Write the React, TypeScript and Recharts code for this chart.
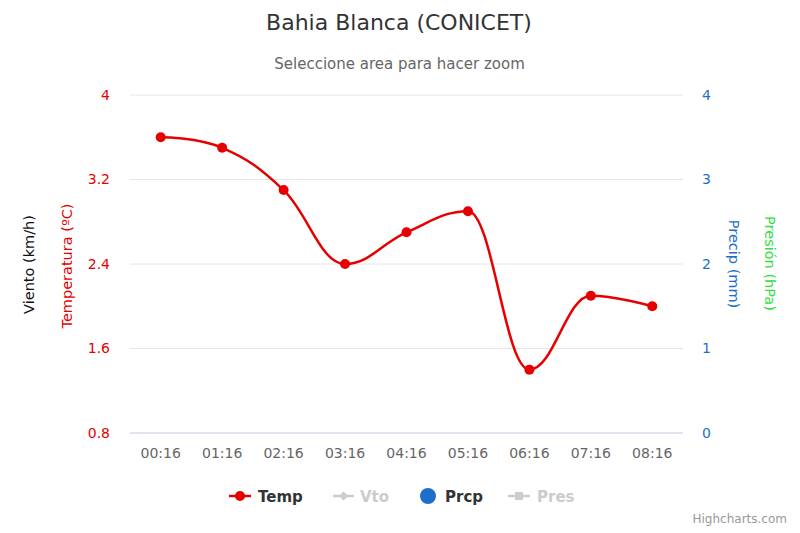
import React from 'react';
import { ComposedChart, Line, Bar, XAxis, YAxis, CartesianGrid } from 'recharts';

const times = ['00:16', '01:16', '02:16', '03:16', '04:16', '05:16', '06:16', '07:16', '08:16'];
const temps = [3.6, 3.5, 3.1, 2.4, 2.7, 2.9, 1.4, 2.1, 2.0];
const precip = [0, 0, 0, 0, 0, 0, 0, 0, 0];
const tempTicks = [0.8, 1.6, 2.4, 3.2, 4];
const precipTicks = [0, 1, 2, 3, 4];

const data = times.map((t, i) => ({ t, temp: temps[i], prcp: precip[i] }));

const RED = '#e60000';
const BLUE = '#1f6fc8';
const GREEN = '#33dd44';
const FONT = '"DejaVu Sans", sans-serif';

// Highcharts-style spline curve factory
function hcSpline(context: any) {
  let pts: number[][] = [];
  return {
    areaStart() {},
    areaEnd() {},
    lineStart() {
      pts = [];
    },
    point(x: number, y: number) {
      pts.push([+x, +y]);
    },
    lineEnd() {
      const n = pts.length;
      if (!n) return;
      const sm = 1.5;
      const den = sm + 1;
      const right: (number[] | null)[] = pts.map(() => null);
      const left: (number[] | null)[] = pts.map(() => null);
      for (let i = 1; i < n - 1; i++) {
        const [px, py] = pts[i];
        const [lx, ly] = pts[i - 1];
        const [nx, ny] = pts[i + 1];
        const lcx = (sm * px + lx) / den;
        let lcy = (sm * py + ly) / den;
        const rcx = (sm * px + nx) / den;
        let rcy = (sm * py + ny) / den;
        let corr = 0;
        if (rcx !== lcx) {
          corr = ((rcy - lcy) * (rcx - px)) / (rcx - lcx) + py - rcy;
        }
        lcy += corr;
        rcy += corr;
        if (lcy > ly && lcy > py) {
          lcy = Math.max(ly, py);
          rcy = 2 * py - lcy;
        } else if (lcy < ly && lcy < py) {
          lcy = Math.min(ly, py);
          rcy = 2 * py - lcy;
        }
        if (rcy > ny && rcy > py) {
          rcy = Math.max(ny, py);
          lcy = 2 * py - rcy;
        } else if (rcy < ny && rcy < py) {
          rcy = Math.min(ny, py);
          lcy = 2 * py - rcy;
        }
        left[i] = [lcx, lcy];
        right[i] = [rcx, rcy];
      }
      context.moveTo(pts[0][0], pts[0][1]);
      for (let i = 1; i < n; i++) {
        const c1 = right[i - 1] || pts[i - 1];
        const c2 = left[i] || pts[i];
        context.bezierCurveTo(c1[0], c1[1], c2[0], c2[1], pts[i][0], pts[i][1]);
      }
    },
  };
}

export default function App() {
  return (
    <div
      style={{
        position: 'absolute',
        left: 0,
        top: 0,
        width: 800,
        height: 533,
        background: '#fff',
        fontFamily: FONT,
      }}
    >
      <ComposedChart
        width={800}
        height={533}
        data={data}
        margin={{ top: 95, right: 0, left: 0, bottom: 70 }}
        style={{ fontFamily: FONT }}
      >
        <CartesianGrid yAxisId="left" vertical={false} stroke="#e6e6e6" />
        <XAxis
          dataKey="t"
          height={30}
          scale="band"
          stroke="#ccd6eb"
          tickLine={false}
          tickMargin={9}
          tick={{ fill: '#666', fontSize: 14 }}
          interval={0}
        />
        <YAxis
          yAxisId="left"
          orientation="left"
          width={130}
          domain={[0.8, 4]}
          ticks={tempTicks}
          allowDataOverflow
          axisLine={false}
          tickLine={false}
          tickMargin={14}
          tick={{ fill: RED, fontSize: 14 }}
        />
        <YAxis
          yAxisId="right"
          orientation="right"
          width={117}
          domain={[0, 4]}
          ticks={precipTicks}
          allowDataOverflow
          axisLine={false}
          tickLine={false}
          tickMargin={13}
          tick={{ fill: BLUE, fontSize: 14 }}
        />
        <Bar
          yAxisId="right"
          dataKey="prcp"
          fill={BLUE}
          isAnimationActive={false}
        />
        <Line
          yAxisId="left"
          dataKey="temp"
          type={hcSpline as any}
          stroke={RED}
          strokeWidth={2.5}
          dot={{ r: 5, fill: RED, stroke: RED, strokeWidth: 0 }}
          activeDot={false}
          isAnimationActive={false}
        />
      </ComposedChart>
      <svg
        width={800}
        height={533}
        style={{ position: 'absolute', left: 0, top: 0, pointerEvents: 'none', fontFamily: FONT }}
      >
        <text x={399} y={30} textAnchor="middle" fontSize={22} fill="#333">
          Bahia Blanca (CONICET)
        </text>
        <text x={399.5} y={68.5} textAnchor="middle" fontSize={15} fill="#666">
          Seleccione area para hacer zoom
        </text>
        <text
          x={29}
          y={264.5}
          dy="0.35em"
          textAnchor="middle"
          fontSize={14.5}
          fill="#111"
          transform="rotate(-90 29 264.5)"
        >
          Viento (km/h)
        </text>
        <text
          x={66.5}
          y={266}
          dy="0.35em"
          textAnchor="middle"
          fontSize={14.5}
          fill={RED}
          transform="rotate(-90 66.5 266)"
        >
          Temperatura (ºC)
        </text>
        <text
          x={734.5}
          y={264}
          dy="0.35em"
          textAnchor="middle"
          fontSize={14.5}
          fill={BLUE}
          transform="rotate(90 734.5 264)"
        >
          Precip (mm)
        </text>
        <text
          x={770.5}
          y={263.5}
          dy="0.35em"
          textAnchor="middle"
          fontSize={14.5}
          fill={GREEN}
          transform="rotate(90 770.5 263.5)"
        >
          Presión (hPa)
        </text>
        <g>
          <line x1={229} y1={496} x2={251} y2={496} stroke={RED} strokeWidth={2.5} />
          <circle cx={240} cy={496} r={5} fill={RED} />
          <text x={258} y={502} fontSize={15} fontWeight="bold" fill="#333">
            Temp
          </text>
          <line x1={333} y1={496} x2={354} y2={496} stroke="#ccc" strokeWidth={2.5} />
          <path d="M343.5 491.5 L348 496 L343.5 500.5 L339 496 Z" fill="#ccc" />
          <text x={360} y={502} fontSize={15} fontWeight="bold" fill="#ccc">
            Vto
          </text>
          <circle cx={428} cy={496} r={8} fill={BLUE} />
          <text x={445} y={502} fontSize={15} fontWeight="bold" fill="#333">
            Prcp
          </text>
          <line x1={508} y1={496} x2={530} y2={496} stroke="#ccc" strokeWidth={2.5} />
          <rect x={515} y={492} width={8} height={8} fill="#ccc" />
          <text x={537} y={502} fontSize={15} fontWeight="bold" fill="#ccc">
            Pres
          </text>
        </g>
        <text x={787} y={523} textAnchor="end" fontSize={12} fill="#999">
          Highcharts.com
        </text>
      </svg>
    </div>
  );
}
